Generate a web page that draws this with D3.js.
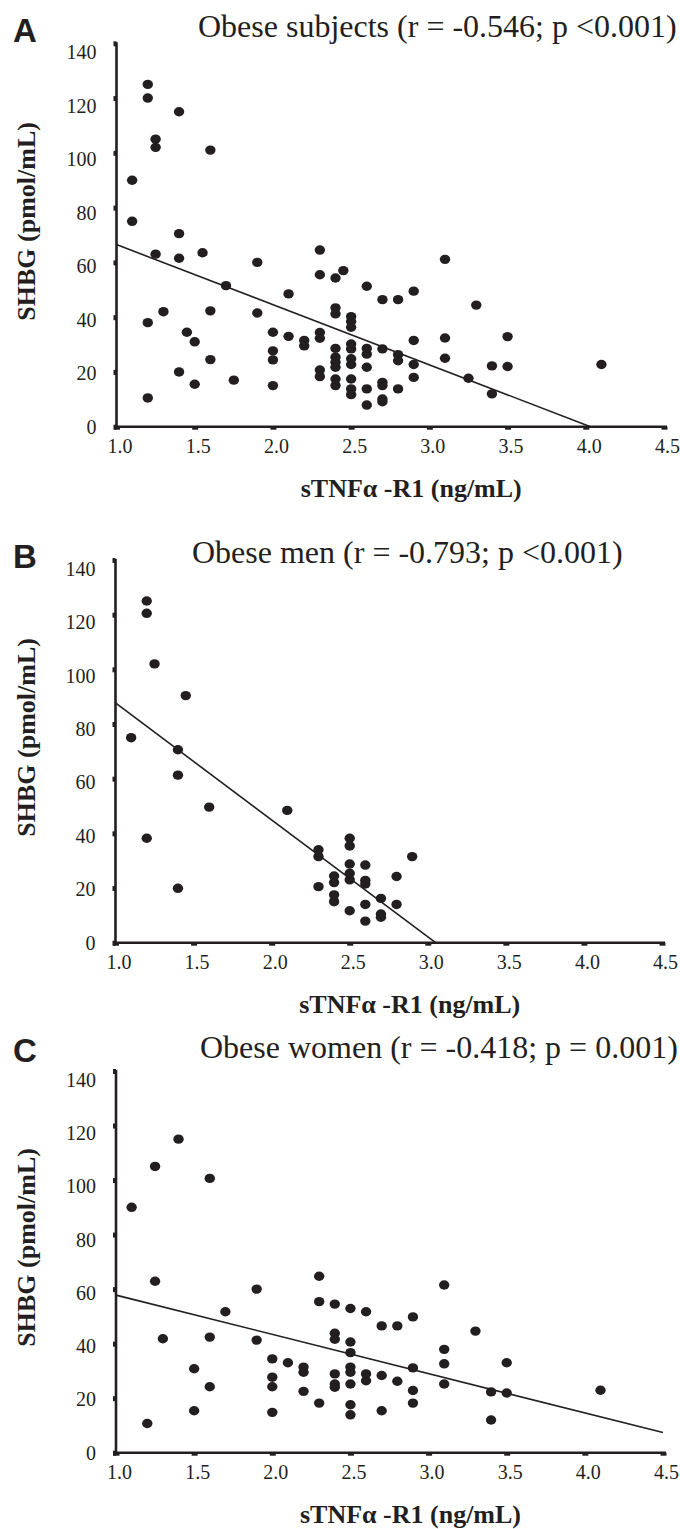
<!DOCTYPE html>
<html>
<head>
<meta charset="utf-8">
<script src="https://cdn.jsdelivr.net/npm/d3@7"></script>
<style>
  body { margin: 0; background: #fff; }
  svg { display: block; }
  .serif { font-family: 'Liberation Serif', 'Times New Roman', serif; fill: #231f20; }
  .letter { font-family: 'Liberation Sans', Arial, sans-serif; font-weight: bold; font-size: 33px; fill: #231f20; }
  .axis path { stroke: #231f20; stroke-width: 2.6; }
  .axis line { stroke: #231f20; }
  .axis text { fill: #231f20; }
  .fit { stroke: #231f20; stroke-width: 1.6; fill: none; }
  .dot { fill: #231f20; }
</style>
</head>
<body>
<div class="chart"></div>
<script>
var xTicks = [1.0, 1.5, 2.0, 2.5, 3.0, 3.5, 4.0, 4.5];
var yTicks = [0, 20, 40, 60, 80, 100, 120, 140];

var panelLetters = ['A', 'B', 'C'];
var panelTitles = [
  'Obese subjects (r = -0.546; p <0.001)',
  'Obese men (r = -0.793; p <0.001)',
  'Obese women (r = -0.418; p = 0.001)'
];
var xLabel = 'sTNF\u03b1 -R1 (ng/mL)';
var yLabel = 'SHBG (pmol/mL)';

// [sTNFa-R1, SHBG]
var subjectsPoints = [
  [1.2, 125], [1.2, 120], [1.25, 105], [1.25, 102], [1.4, 115], [1.6, 101], [1.1, 90], [1.1, 75],
  [1.4, 70.5], [1.25, 63], [1.4, 61.5], [1.55, 63.5], [1.7, 51.5], [1.9, 60], [2.3, 64.5], [2.3, 55.5],
  [2.4, 54.3], [2.45, 57],
  [1.2, 38], [1.3, 42], [1.6, 42.3], [2.1, 48.5], [1.9, 41.5], [1.45, 34.5], [1.5, 31], [1.6, 24.5],
  [1.4, 20], [1.5, 15.5], [1.2, 10.5], [1.75, 17],
  [2.0, 34.5], [2.0, 27.7], [2.0, 24.4], [2.0, 15], [2.1, 33], [2.2, 31.5], [2.2, 29.5],
  [2.3, 34.4], [2.3, 32.3], [2.3, 20.7], [2.3, 18.3],
  [2.4, 43.4], [2.4, 41.2], [2.4, 28.6], [2.4, 25.4], [2.4, 23.5], [2.4, 21.7], [2.4, 17.4], [2.4, 15],
  [2.5, 40.2], [2.5, 38.4], [2.5, 36.3], [2.5, 30.2], [2.5, 28.4], [2.5, 24.8], [2.5, 22.7], [2.5, 17.4],
  [2.5, 13.8], [2.5, 11.7],
  [2.6, 51.3], [2.6, 28.6], [2.6, 26.5], [2.6, 21.7], [2.6, 13.8], [2.6, 7.9],
  [2.7, 46.4], [2.7, 28.4], [2.7, 16.2], [2.7, 15], [2.7, 10.1], [2.7, 9.1],
  [2.8, 46.4], [2.8, 26.3], [2.8, 24.1], [2.8, 13.8],
  [2.9, 49.5], [2.9, 31.5], [2.9, 22.7], [2.9, 18],
  [3.1, 61.1], [3.1, 32.4], [3.1, 25],
  [3.25, 17.7], [3.3, 44.4], [3.4, 22.2], [3.4, 12], [3.5, 32.9], [3.5, 22], [4.1, 22.7]
];

var menPoints = [
  [1.2, 125], [1.2, 120.5], [1.25, 102], [1.45, 90.4], [1.1, 75], [1.4, 70.6], [1.4, 61.3],
  [1.6, 49.6], [2.1, 48.4], [1.2, 38.2], [1.4, 19.9],
  [2.3, 34], [2.3, 31.5], [2.3, 20.5],
  [2.4, 24.4], [2.4, 22], [2.4, 17.5], [2.4, 15],
  [2.5, 38.2], [2.5, 35.4], [2.5, 28.8], [2.5, 25.4], [2.5, 23], [2.5, 11.7],
  [2.6, 28.4], [2.6, 22.8], [2.6, 21.5], [2.6, 14], [2.6, 7.9],
  [2.7, 16.2], [2.7, 10.5], [2.7, 9.3],
  [2.8, 24.2], [2.8, 14],
  [2.9, 31.5]
];

var womenPoints = [
  [1.1, 90], [1.25, 105], [1.4, 115], [1.6, 100.6],
  [1.25, 62.9], [1.3, 41.8], [1.2, 10.7], [1.5, 30.8], [1.5, 15.4], [1.6, 42.4], [1.6, 24.2],
  [1.7, 51.7], [1.9, 60], [1.9, 41.3],
  [2.0, 34.4], [2.0, 27.7], [2.0, 24.2], [2.0, 14.8], [2.1, 33], [2.2, 31.4], [2.2, 29.5], [2.2, 22.5],
  [2.3, 64.7], [2.3, 55.4], [2.3, 18.2],
  [2.4, 54.5], [2.4, 43.8], [2.4, 41.6], [2.4, 28.9], [2.4, 25.2], [2.4, 24],
  [2.5, 52.9], [2.5, 40.6], [2.5, 36.7], [2.5, 31.4], [2.5, 29.5], [2.5, 25.2], [2.5, 17.6], [2.5, 13.9],
  [2.6, 51.7], [2.6, 28.9], [2.6, 26.4],
  [2.7, 46.5], [2.7, 28.3], [2.7, 15.4],
  [2.8, 46.5], [2.8, 26.2],
  [2.9, 49.8], [2.9, 31.1], [2.9, 22.8], [2.9, 18.2],
  [3.1, 61.5], [3.1, 37.9], [3.1, 32.6], [3.1, 25.2],
  [3.3, 44.6], [3.4, 22.3], [3.4, 12], [3.5, 33], [3.5, 21.9], [4.1, 22.9]
];

// regression lines as drawn: [x, SHBG] at both ends
var subjectsFit = [[1.0, 66.5], [4.03, 0]];
var menFit = [[1.0, 87.7], [3.05, 0]];
var womenFit = [[1.0, 57.8], [4.5, 7.4]];

function init() {
  var width = 680,
      height = 1529,
      serif = "'Liberation Serif', 'Times New Roman', serif";

  var svg = d3.select('.chart')
    .append('svg')
      .attr('width', width)
      .attr('height', height);

  svg.append('rect')
      .attr('width', width)
      .attr('height', height)
      .attr('fill', '#fff');

  function drawPanel(idx, points, fit, box) {
    var x = d3.scaleLinear().domain([1.0, 4.5]).range([box.left, box.right]);
    var y = d3.scaleLinear().domain([0, 140]).range([box.bottom, box.top]);
    var g = svg.append('g');

    g.append('text')
        .attr('class', 'letter')
        .attr('x', 13)
        .attr('y', box.letterY)
        .text(panelLetters[idx]);

    g.append('text')
        .attr('class', 'serif')
        .attr('x', box.titleX)
        .attr('y', box.titleY)
        .style('font-size', '32px')
        .text(panelTitles[idx]);

    var xAxis = g.append('g')
        .attr('class', 'axis')
        .attr('transform', 'translate(0,' + box.bottom + ')')
        .call(d3.axisBottom(x).tickValues(xTicks).tickFormat(d3.format('.1f'))
          .tickSize(3).tickSizeOuter(0).tickPadding(9))
        .attr('font-family', serif)
        .attr('font-size', 20);
    xAxis.select('.domain').attr('d', 'M' + (box.left - 1) + ',0H' + (box.right + 3));
    xAxis.selectAll('.tick line').attr('stroke-width', 6);
    xAxis.selectAll('.tick text').attr('dx', 3);

    var yAxis = g.append('g')
        .attr('class', 'axis')
        .attr('transform', 'translate(' + box.left + ',0)')
        .call(d3.axisLeft(y).tickValues(yTicks)
          .tickSize(3).tickSizeOuter(0).tickPadding(17))
        .attr('font-family', serif)
        .attr('font-size', 20);
    yAxis.select('.domain').attr('d', 'M0,' + (box.top - 1) + 'V' + (box.bottom + 1));
    yAxis.selectAll('.tick line').attr('stroke-width', 5);
    // labels in the original sit slightly lower the higher they go
    yAxis.selectAll('.tick text')
        .attr('dy', '0.32em')
        .attr('y', function(d) { return d / 140 * 9; });

    g.append('text')
        .attr('class', 'serif')
        .attr('x', (box.left + box.right) / 2 + 21)
        .attr('y', box.bottom + 70)
        .attr('text-anchor', 'middle')
        .style('font-size', '26px')
        .style('font-weight', 'bold')
        .text(xLabel);

    g.append('text')
        .attr('class', 'serif')
        .attr('transform', 'translate(35,' + (box.bottom - 106) + ') rotate(-90)')
        .style('font-size', '26px')
        .style('font-weight', 'bold')
        .text(yLabel);

    g.selectAll('ellipse.dot')
        .data(points)
      .enter().append('ellipse')
        .attr('class', 'dot')
        .attr('cx', function(d) { return x(d[0]); })
        .attr('cy', function(d) { return y(d[1]); })
        .attr('rx', 5.2)
        .attr('ry', 4.7);

    g.append('path')
        .attr('class', 'fit')
        .attr('d', d3.line()
          .x(function(d) { return x(d[0]); })
          .y(function(d) { return y(d[1]); })(fit));
  }

  drawPanel(0, subjectsPoints, subjectsFit,
    { left: 116.5, right: 664, top: 43.3, bottom: 426.7, titleX: 198, titleY: 37, letterY: 42 });
  drawPanel(1, menPoints, menFit,
    { left: 115.5, right: 662, top: 560, bottom: 942.7, titleX: 192, titleY: 563, letterY: 568 });
  drawPanel(2, womenPoints, womenFit,
    { left: 116, right: 663, top: 1071, bottom: 1452.7, titleX: 200, titleY: 1058, letterY: 1062 });
}

d3.select(window).on('load', init);
</script>
</body>
</html>
